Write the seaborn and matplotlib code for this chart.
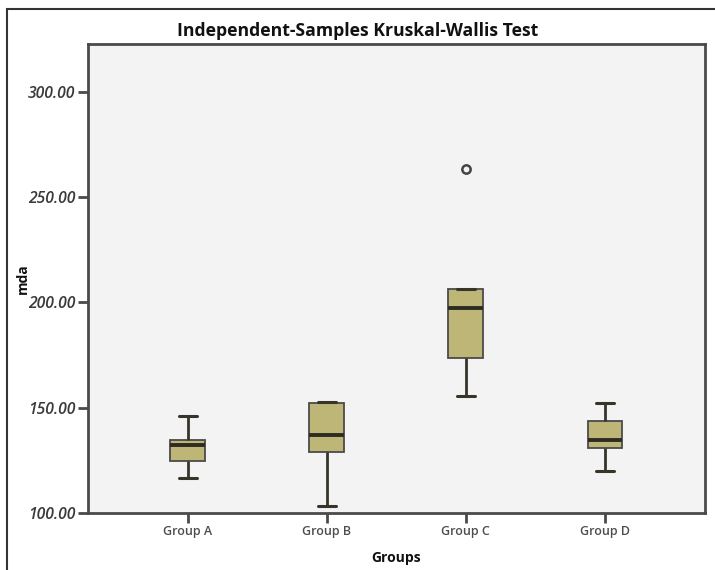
import matplotlib
matplotlib.use('Agg')
import matplotlib.pyplot as plt
import matplotlib.patches as mpatches
import seaborn as sns
import pandas as pd

# values (min, Q1, median, Q3, max / outlier)
groups = ['Group A', 'Group B', 'Group C', 'Group D']
group_a = [116.6, 124.5, 132.3, 134.5, 146.0]
group_b = [103.5, 129.0, 137.0, 152.4, 152.9]
group_c = [155.3, 173.8, 197.1, 206.2, 263.4]
group_d = [120.0, 130.8, 134.7, 143.7, 152.0]
y_ticks = [100, 150, 200, 250, 300]

df = pd.DataFrame({
    'Groups': sum([[g] * 5 for g in groups], []),
    'mda': group_a + group_b + group_c + group_d,
})

sns.set_style('white')
plt.rcParams['font.family'] = ['Open Sans', 'DejaVu Sans']

fig = plt.figure(figsize=(7.15, 5.7), dpi=100)
ax = fig.add_axes([0.1227, 0.1, 0.8633, 0.8228])
ax.set_facecolor('#f3f3f3')

sns.boxplot(data=df, x='Groups', y='mda', order=groups, ax=ax,
            width=0.25, color='#bdb677', saturation=1,
            linecolor='#4a4a4a', linewidth=1.3,
            whiskerprops={'color': '#37342a', 'linewidth': 2.0},
            capprops={'color': '#37342a', 'linewidth': 2.2},
            medianprops={'color': '#2e2c22', 'linewidth': 2.8},
            flierprops={'marker': 'o', 'markerfacecolor': 'none',
                        'markeredgecolor': '#444444', 'markersize': 6,
                        'markeredgewidth': 1.8})

ax.set_xlim(-0.72, 3.72)
ax.set_ylim(100, 322.6)
ax.set_yticks(y_ticks)
ax.set_yticklabels([f'{v:.2f}' for v in y_ticks], fontsize=11.3,
                   fontstyle='italic', fontweight='semibold', color='#3a3a3a')
ax.set_xticks(range(len(groups)))
ax.set_xticklabels(groups, fontsize=9, fontweight='semibold', color='#4d4d4d')
ax.tick_params(axis='both', direction='out', length=7, width=2,
               color='#4a4a4a', pad=2, left=True, bottom=True)

for s in ax.spines.values():
    s.set_color('#4a4a4a')
    s.set_linewidth(2)

ax.set_xlabel('Groups', fontsize=10, fontweight='bold', color='#111111')
ax.set_ylabel('mda', fontsize=10, fontweight='bold', color='#111111')
ax.xaxis.set_label_coords(0.5, -0.08)
ax.yaxis.set_label_coords(-0.094, 0.5)

fig.text(0.5, 0.9456, 'Independent-Samples Kruskal-Wallis Test',
         ha='center', va='center', fontsize=12.7, fontweight='bold', color='#111111')

# outer chart frame (runs off the right and bottom edge)
fig.patches.append(mpatches.Rectangle((6.7 / 715, -0.1), 1.2, 0.984 + 0.1,
                                      transform=fig.transFigure, fill=False,
                                      edgecolor='#333333', linewidth=1.5))

fig.savefig('out.png', dpi=100)
